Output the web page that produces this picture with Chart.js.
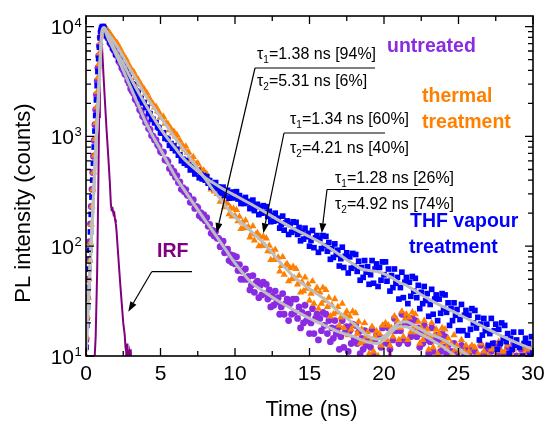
<!DOCTYPE html>
<html>
<head>
<meta charset="UTF-8">
<title>PL decay</title>
<style>
  body { margin: 0; background: #fff; }
  #wrap { width: 544px; height: 421px; }
</style>
</head>
<body>
<div id="wrap"><canvas id="decayChart" width="544" height="421"></canvas></div>
<script src="https://cdn.jsdelivr.net/npm/chart.js@4"></script>
<script>
// measured decays, time in ns
const riseTimes = [0,0.05,0.1,0.15,0.2,0.25,0.3,0.35,0.4,0.45,0.5,0.55,0.6,0.65,0.7,0.75,0.8,0.85,0.9,0.95,1,1.05,1.1,1.15,1.2];
const decayTimes = [
  1.3,1.4,1.5,1.6,1.7,1.8,1.9,2,
  2.1,2.2,2.3,2.4,2.5,2.6,2.7,2.8,2.9,3,
  3.1,3.2,3.3,3.4,3.5,3.6,3.7,3.8,3.9,4,
  4.1,4.2,4.3,4.4,4.5,4.6,4.7,4.8,4.9,5,
  5.1,5.2,5.3,5.4,5.5,5.6,5.7,5.8,5.9,6,
  6.1,6.2,6.3,6.4,6.5,6.6,6.7,6.8,6.9,7,
  7.1,7.2,7.3,7.4,7.5,7.6,7.7,7.8,7.9,8,
  8.1,8.2,8.3,8.4,8.5,8.6,8.7,8.8,8.9,9,
  9.1,9.2,9.3,9.4,9.5,9.6,9.7,9.8,9.9,10,
  10.1,10.2,10.3,10.4,10.5,10.6,10.7,10.8,10.9,11,
  11.1,11.2,11.3,11.4,11.5,11.6,11.7,11.8,11.9,12,
  12.1,12.2,12.3,12.4,12.5,12.6,12.7,12.8,12.9,13,
  13.1,13.2,13.3,13.4,13.5,13.6,13.7,13.8,13.9,14,
  14.1,14.2,14.3,14.4,14.5,14.6,14.7,14.8,14.9,15,
  15.1,15.2,15.3,15.4,15.5,15.6,15.7,15.8,15.9,16,
  16.1,16.2,16.3,16.4,16.5,16.6,16.7,16.8,16.9,17,
  17.1,17.2,17.3,17.4,17.5,17.6,17.7,17.8,17.9,18,
  18.1,18.2,18.3,18.4,18.5,18.6,18.7,18.8,18.9,19,
  19.1,19.2,19.3,19.4,19.5,19.6,19.7,19.8,19.9,20,
  20.1,20.2,20.3,20.4,20.5,20.6,20.7,20.8,20.9,21,
  21.1,21.2,21.3,21.4,21.5,21.6,21.7,21.8,21.9,22,
  22.1,22.2,22.3,22.4,22.5,22.6,22.7,22.8,22.9,23,
  23.1,23.2,23.3,23.4,23.5,23.6,23.7,23.8,23.9,24,
  24.1,24.2,24.3,24.4,24.5,24.6,24.7,24.8,24.9,25,
  25.1,25.2,25.3,25.4,25.5,25.6,25.7,25.8,25.9,26,
  26.1,26.2,26.3,26.4,26.5,26.6,26.7,26.8,26.9,27,
  27.1,27.2,27.3,27.4,27.5,27.6,27.7,27.8,27.9,28,
  28.1,28.2,28.3,28.4,28.5,28.6,28.7,28.8,28.9,29,
  29.1,29.2,29.3,29.4,29.5,29.6,29.7,29.8,29.9,30
];
const timeNs = riseTimes.concat(decayTimes);

const untreatedCounts = [
  14,22,34,50,75,110,160,230,330,470,660,920,1280,1750,2400,3200,4200,5400,6700,8000,9000,9600,9700,9500,9200,
  8950,8100,7800,7100,6850,6300,6050,5550,
  5400,4850,4650,4200,4000,3700,3600,3230,3030,2720,
  2580,2460,2180,2110,1970,1750,1700,1530,1490,1340,
  1330,1180,1150,1020,1000,930,930,840,810,730,
  710,720,610,610,590,510,520,465,480,425,
  440,380,385,330,342,313,328,291,289,251,
  252,265,221,230,225,189,202,180,194,171,
  182,152,158,131,139,124,136,118,118,99,
  101,111,87,94,94,74,84,71,82,69,
  80,60,68,50,59,50,62,50,53,40,
  44,54,38,46,48,34,44,36,47,37,
  45,33,40,28,35,29,39,31,34,24,
  28,37,24,30,33,21,30,24,33,25,
  33,22,28,18,25,20,29,21,24,16,
  20,27,16,22,24,14,22,17,25,19,
  24,16,21,13.5,18,14.5,21,16,18,11.5,
  15,21,12,16.5,18.5,11,17,13,19.5,14.5,
  19,13,16.5,10.5,14.5,11.5,17,12.5,14.5,9.5,
  12,17.5,10,14,15.5,9,15,12,18,13.5,
  19,13,18,11.5,17,14,22,17,19.5,13,
  17,24,14,19.5,22,13,20,15,22,16.5,
  21,15,18,12,16,13,19,14,15.5,10.5,
  13.5,18,11,14,15.5,9.5,14,11,16,12,
  15,10.5,12.5,8.5,11,9,13,9.5,10.5,7.5,
  9,12.5,8,10,11.5,7.5,10.5,8.5,12,9.5,
  11,8,10,7.5,12.5,9,10.5,8,11.5,9,
  8.5,11,9.5,13,8,10,12,7.5,10.5,9,
  10.5,8,12,9,11,7.5,13,9.5,10,8.5,
  9,11.5,8,10,12.5,9,10.5,8,11,9.5
];

const thermalCounts = [
  10,15,23,34,50,74,108,158,230,330,470,670,950,1330,1850,2550,3450,4550,5800,7100,8300,9200,9700,9900,9900,
  9900,9450,9050,8700,8250,7950,7550,7250,
  7050,6450,6300,5700,5580,5170,5050,4620,4450,4080,
  3960,3880,3450,3430,3310,2990,2960,2710,2700,2480,
  2460,2210,2180,1980,1980,1840,1870,1700,1670,1510,
  1480,1510,1310,1330,1300,1140,1180,1070,1110,1000,
  1030,900,920,800,825,760,810,710,715,615,
  620,650,545,565,570,475,510,455,490,425,
  455,380,400,330,350,315,345,300,305,255,
  264,286,227,246,246,196,224,187,220,190,
  214,169,186,144,165,148,172,146,150,120,
  130,152,113,128,132,100,121,101,123,101,
  118,90,101,75,89,75,93,75,79,59,
  66,80,55,67,69,48,63,50,65,51,
  62,45,54,38,47,39,52,41,45,32,
  37,48,30,39,42,27,38,30,42,32,
  40,28,34,23,29,24,33,25,28,19,
  22.5,30,18,24,25.5,15.5,23,17.5,25.5,19,
  24.5,16,20.5,13,17.5,13.5,20,15,16.5,10.5,
  13.5,18.5,11,15,16.8,10,16,12.5,19,14.5,
  20,14,19,12.5,18,15,23,18,21,14,
  18,25.5,15,21.5,24,14,22.5,16.5,25,18.5,
  24,16.5,20.5,13,18,14,21,16,17.5,11.5,
  15,20,12,15.5,17.5,10.5,16,12.5,18,13.5,
  17.5,12,14.5,9.5,13,10.5,15.5,11.5,12.5,8,
  11,14,9,11,12.5,7.5,11,8.5,12.5,9.5,
  12,9,10.5,8,13,9.5,11,8.5,12.5,10,
  9,11.5,8.5,12,10,8,13.5,9.5,11,8.5,
  11,8,12.5,9.5,10.5,8.5,11.5,9,13,9.5,
  10,12,8.5,10.5,9,11.5,8,12,9.5,10.5
];

const thfCounts = [
  12,19,28,42,62,92,135,195,280,400,570,800,1120,1550,2150,2900,3900,5100,6500,7900,9000,9700,10000,10000,9800,
  9000,8300,7900,7300,6950,6400,6100,5600,
  5580,5060,4970,4520,4380,4060,4010,3630,3450,3130,
  3010,2950,2640,2580,2470,2230,2210,2040,2020,1850,
  1830,1630,1610,1450,1430,1330,1340,1220,1190,1080,
  1070,1080,960,960,940,830,860,780,820,740,
  765,675,680,600,620,570,605,550,550,495,
  505,530,455,480,490,420,450,410,440,400,
  430,375,396,345,368,335,380,340,346,305,
  320,345,290,315,323,274,308,275,311,279,
  314,269,289,245,268,245,278,248,256,220,
  232,263,211,234,241,194,227,200,234,203,
  229,187,208,167,190,169,200,172,180,146,
  159,188,140,163,170,128,158,134,167,140,
  165,128,148,112,134,116,146,122,131,100,
  113,139,97,119,125,88,117,95,125,101,
  123,90,108,76,95,79,105,84,92,66,
  77,98,64,81,87,57,80,63,86,66,
  84,59,73,49,64,52,74,58,65,45,
  55,74,46,62,69,43,64,49,72,55,
  72,48,62,39,54,42,62,46,52,33,
  42,58,34,47,52,30,47,35,53,39,
  51,34,44,27,38,30,43,32,37,23,
  29.5,40.5,24,33,36,21,33,24.5,37,27,
  36,25,30.5,19,27,21,30.5,23.5,26.5,17,
  21.5,29.5,17,23.5,26,15.5,23.5,17.5,27,20,
  26,18,22.5,14,19.5,15.5,22,17,19.5,12.5,
  16,22,13,17,19.5,11.5,17.5,13,20,14.5,
  19,13.5,16,10.5,14.5,11.5,16.5,12.5,14,9.5,
  12,16.5,10,13,14.5,8.5,13,10,15,11
];

// bi-exponential fits (grey curves)
const fitTimeNs = [0,0.2,0.4,0.6,0.8,0.9,1,1.1,1.2,1.5,2,2.5,3,3.5,4,4.5,5,5.5,6,6.5,7,7.5,8,8.5,9,9.5,10,
  11,12,13,14,15,16,17,18,18.5,19,19.5,20,20.5,21,21.5,22,23,24,25,26,27,28,29,30];
const untreatedFit = [11,40,145,520,1850,3500,6600,9200,9400,7700,5600,4000,2800,1950,1350,1000,760,570,430,340,270,215,172,138,110,88,70,
  48,38,31,26,22,19,16.5,15,14,13.3,13,14,16.5,18.5,18.5,17,14.5,12,9.5,8,7,6,5.5,5];
const thermalFit = [11,40,145,520,1850,3400,6300,9000,9700,8600,6900,5300,4000,3100,2370,1880,1500,1200,960,780,630,510,410,330,270,220,185,
  140,104,72,52,41,33,25,19.5,17,15,14.2,15,17.5,20,20.5,19,16,14,11.5,9.5,8,7,6,5];
const thfFit = [11,42,150,540,1900,3600,6800,9500,9800,8300,6000,4600,3400,2550,1950,1500,1180,950,780,640,550,480,420,380,345,315,290,
  245,205,170,143,122,103,84,68,62,60,59,56,52,47,44,40,33,28,24,20.5,17.5,15,13,11.5];

// instrument response function
const irfTimeNs = [0.55,0.65,0.75,0.82,0.88,0.93,0.97,1,1.04,1.09,1.18,1.27,1.38,1.5,1.6,1.67,1.72,1.78,1.85,1.9,
  1.95,2,2.05,2.12,2.2,2.3,2.4,2.5,2.6,2.65,2.7,2.72,2.78,2.82,2.9,2.95,3,3.05,3.1,20.2,20.3,20.4,20.5];
const irfCounts = [8,15,60,300,1500,4500,8000,9300,8500,6000,3500,2100,1150,640,380,240,215,220,195,200,
  175,160,138,100,70,45,30,20,15.5,12,11,9,13,9,10.5,8,11.5,8,9,null,8,11.5,8];

const xMajor = [0,5,10,15,20,25,30];
const xMinor = [2.5,7.5,12.5,17.5,22.5,27.5];
const yDecades = [10,100,1000,10000];
const yExponents = ['1','2','3','4'];

const FONT = '"Liberation Sans", Arial, sans-serif';
const PURPLE = '#8a2be2', ORANGE = '#ff8000', BLUE = '#0000ff', IRF_COL = '#800080', FIT_COL = 'rgb(190,190,190)';

function pts(xs, ys) { return xs.map((t, i) => ({ x: t, y: ys[i] })); }

function arrow(ctx, x0, y0, x1, y1) {
  const ang = Math.atan2(y1 - y0, x1 - x0), L = 10, W = 3.5;
  const bx = x1 - L * Math.cos(ang), by = y1 - L * Math.sin(ang);
  ctx.beginPath(); ctx.moveTo(x0, y0); ctx.lineTo(bx, by); ctx.stroke();
  ctx.beginPath();
  ctx.moveTo(x1, y1);
  ctx.lineTo(bx + W * Math.sin(ang), by - W * Math.cos(ang));
  ctx.lineTo(bx - W * Math.sin(ang), by + W * Math.cos(ang));
  ctx.closePath(); ctx.fill();
}

function tauText(ctx, x, y, idx, rest) {
  ctx.textAlign = 'left'; ctx.textBaseline = 'alphabetic';
  ctx.font = '16px ' + FONT;
  ctx.fillText('\u03c4', x, y);
  let w = ctx.measureText('\u03c4').width;
  ctx.font = '10px ' + FONT;
  ctx.fillText(idx, x + w, y + 4);
  w += ctx.measureText(idx).width;
  ctx.font = '16px ' + FONT;
  ctx.fillText('=' + rest, x + w, y);
}

// lifetime boxes: text x, baselines, underline, arrow tip
const notes = [
  { x: 257, b1: 59, b2: 86, t1: '1.38 ns [94%]', t2: '5.31 ns [6%]', ly: 68, lx0: 255, lx1: 375, tip: [216.7, 233] },
  { x: 290, b1: 124, b2: 153, t1: '1.34 ns [60%]', t2: '4.21 ns [40%]', ly: 133, lx0: 284, lx1: 385, tip: [263.3, 233.3] },
  { x: 335, b1: 182.5, b2: 208.5, t1: '1.28 ns [26%]', t2: '4.92 ns [74%]', ly: 189.5, lx0: 327, lx1: 429, tip: [321.7, 233.3] }
];
const labels = [
  { text: 'untreated', x: 387, y: 47, color: PURPLE },
  { text: 'thermal', x: 422, y: 97, color: ORANGE },
  { text: 'treatment', x: 422, y: 123, color: ORANGE },
  { text: 'THF vapour', x: 410, y: 222, color: BLUE },
  { text: 'treatment', x: 409, y: 248, color: BLUE },
  { text: 'IRF', x: 157, y: 252, color: IRF_COL }
];

const framePlugin = {
  id: 'frame',
  afterDraw(chart) {
    const { ctx, chartArea: a, scales: { x, y } } = chart;
    ctx.save();
    ctx.strokeStyle = '#000'; ctx.fillStyle = '#000';
    ctx.lineWidth = 1.3;
    ctx.beginPath();
    const xt = (t, len) => { const p = x.getPixelForValue(t);
      ctx.moveTo(p, a.bottom); ctx.lineTo(p, a.bottom - len);
      ctx.moveTo(p, a.top); ctx.lineTo(p, a.top + len); };
    const yt = (v, len) => { const p = y.getPixelForValue(v);
      ctx.moveTo(a.left, p); ctx.lineTo(a.left + len, p);
      ctx.moveTo(a.right, p); ctx.lineTo(a.right - len, p); };
    xMajor.forEach(t => xt(t, 8));
    xMinor.forEach(t => xt(t, 5));
    yDecades.forEach(d => {
      yt(d, 8);
      for (let k = 2; k <= 9; k++) if (d * k <= y.max) yt(d * k, 5);
    });
    ctx.stroke();
    ctx.lineWidth = 1.6;
    ctx.strokeRect(a.left, a.top, a.right - a.left, a.bottom - a.top);

    // tick labels
    ctx.font = '21px ' + FONT;
    ctx.textAlign = 'center'; ctx.textBaseline = 'middle';
    xMajor.forEach(t => ctx.fillText(String(t), x.getPixelForValue(t), 374));
    yDecades.forEach((d, i) => {
      const p = y.getPixelForValue(d);
      ctx.font = '21px ' + FONT; ctx.textAlign = 'right'; ctx.textBaseline = 'alphabetic';
      ctx.fillText('10', 74, p + 7.5);
      ctx.font = '13px ' + FONT; ctx.textAlign = 'left';
      ctx.fillText(yExponents[i], 74.5, p);
    });

    // axis titles
    ctx.font = '22px ' + FONT;
    ctx.textAlign = 'center'; ctx.textBaseline = 'middle';
    ctx.fillText('Time (ns)', (a.left + a.right) / 2 + 2, 410);
    ctx.save();
    ctx.translate(24, 203);
    ctx.rotate(-Math.PI / 2);
    ctx.fillText('PL intensity (counts)', 0, 0);
    ctx.restore();

    // lifetime annotations
    ctx.lineWidth = 1.2;
    notes.forEach(n => {
      tauText(ctx, n.x, n.b1, '1', n.t1);
      tauText(ctx, n.x, n.b2, '2', n.t2);
      ctx.beginPath(); ctx.moveTo(n.lx0, n.ly); ctx.lineTo(n.lx1, n.ly); ctx.stroke();
      arrow(ctx, n.lx0, n.ly, n.tip[0], n.tip[1]);
    });
    ctx.beginPath(); ctx.moveTo(192, 271.7); ctx.lineTo(151.7, 271.7); ctx.stroke();
    arrow(ctx, 151.7, 271.7, 128.3, 311.7);

    ctx.font = 'bold 19.5px ' + FONT;
    ctx.textAlign = 'left'; ctx.textBaseline = 'middle';
    labels.forEach(l => { ctx.fillStyle = l.color; ctx.fillText(l.text, l.x, l.y); });
    ctx.restore();
  }
};

const scatterDs = (label, data, color, style, r, order) => ({
  label, data: pts(timeNs, data), showLine: false, pointStyle: style, pointRadius: r,
  backgroundColor: color, borderColor: color, borderWidth: 0, order, clip: 0
});
const fitDs = (label, data) => ({
  label, data: pts(fitTimeNs, data), showLine: true, pointRadius: 0, borderColor: FIT_COL,
  borderWidth: 3, cubicInterpolationMode: 'monotone', order: 0, clip: 0
});

new Chart(document.getElementById('decayChart'), {
  type: 'scatter',
  data: {
    datasets: [
      scatterDs('untreated', untreatedCounts, PURPLE, 'circle', 3.4, 3),
      scatterDs('thermal treatment', thermalCounts, ORANGE, 'triangle', 4.2, 2),
      scatterDs('THF vapour treatment', thfCounts, BLUE, 'rect', 4, 1),
      { label: 'IRF', data: pts(irfTimeNs, irfCounts), showLine: true, spanGaps: false, pointRadius: 0,
        borderColor: IRF_COL, borderWidth: 2, order: 0.5, clip: 0 },
      fitDs('untreated fit', untreatedFit),
      fitDs('thermal fit', thermalFit),
      fitDs('THF fit', thfFit)
    ]
  },
  options: {
    responsive: false,
    animation: false,
    layout: { padding: { left: 86, right: 11, top: 16, bottom: 65 } },
    plugins: { legend: { display: false }, tooltip: { enabled: false } },
    scales: {
      x: { type: 'linear', min: 0, max: 30, display: false },
      y: { type: 'logarithmic', min: 10, max: 12500, display: false }
    }
  },
  plugins: [framePlugin]
});
</script>
</body>
</html>
